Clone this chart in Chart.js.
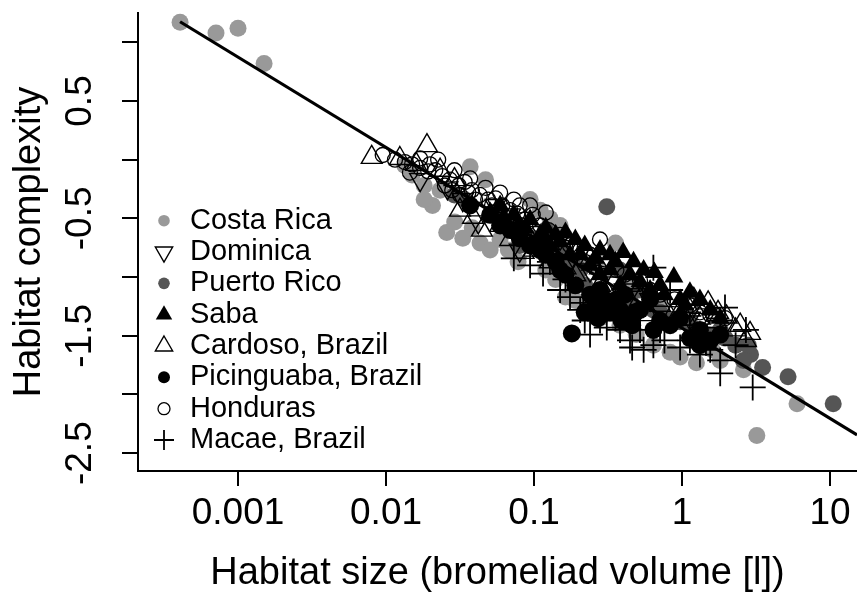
<!DOCTYPE html>
<html>
<head>
<meta charset="utf-8">
<script src="https://cdn.jsdelivr.net/npm/chart.js@4.4.1/dist/chart.umd.min.js"></script>
<style>
html,body{margin:0;padding:0;background:#fff;}
#wrap{width:857px;height:593px;}
</style>
</head>
<body>
<div id="wrap"><canvas id="c" width="857" height="593"></canvas></div>
<script>
// ---------- data (volume in litres, habitat complexity) ----------
const seriesNames = ['Costa Rica','Dominica','Puerto Rico','Saba','Cardoso, Brazil','Picinguaba, Brazil','Honduras','Macae, Brazil'];

const costaRicaVolume = [0.000406,0.00071,0.001,0.0015,0.0134,0.015,0.0181,0.0206,0.0232,0.0257,0.0291,0.033,0.0382,0.0432,0.0505,0.0589,0.067,0.078,0.037,0.047,0.094,0.11,0.128,0.15,0.12,0.14,0.163,0.19,0.239,0.355,0.279,0.381,0.49,0.64,0.83,0.97,1.25,1.6,1.81,2.6,3.2,5.98,0.0804,0.205,0.445,0.71,1.13,1.55,0.279,0.0181];
const costaRicaComplexity = [1.17,1.08,1.12,0.82,-0.05,-0.13,-0.22,-0.39,-0.26,-0.62,-0.53,-0.67,-0.58,-0.71,-0.77,-0.68,-0.77,-0.87,-0.06,-0.17,-0.34,-0.43,-0.50,-0.56,-0.94,-1.02,-1.17,-1.20,-1.24,-0.71,-1.35,-1.41,-1.49,-1.58,-1.64,-1.68,-1.73,-1.62,-1.71,-1.79,-2.35,-2.08,-0.60,-0.85,-1.07,-1.20,-1.36,-1.49,-0.94,-0.34];

const dominicaVolume = [0.017,0.026,0.042,0.055,0.069,0.094,0.125,0.15,0.19,0.239,0.30,0.41,0.52,0.71,0.97,1.32,0.080,0.033,0.11,0.175,0.355,0.608,1.13];
const dominicaComplexity = [-0.17,-0.24,-0.53,-0.39,-0.47,-0.62,-0.70,-0.67,-0.77,-0.94,-0.98,-1.11,-1.15,-1.30,-1.28,-1.36,-0.77,-0.34,-0.70,-0.87,-1.05,-1.19,-1.35];

const puertoRicoVolume = [0.31,3.5,5.2,10.5,0.029,0.034,0.059,0.073,0.094,0.12,0.15,0.18,0.22,0.26,0.33,0.38,0.52,0.64,0.83,1.13,1.45,1.81,2.3,2.9,2.8,2.6,0.080,0.11,0.15,0.205,0.279,0.445,0.71,0.97,1.32,1.95];
const puertoRicoComplexity = [-0.40,-1.77,-1.85,-2.08,-0.30,-0.34,-0.47,-0.58,-0.67,-0.60,-0.77,-0.87,-1.07,-1.19,-1.24,-0.94,-1.11,-1.28,-1.36,-1.41,-1.49,-1.45,-1.58,-1.66,-1.58,-1.71,-0.73,-0.68,-0.87,-0.94,-1.11,-1.19,-1.30,-1.38,-1.45,-1.52];

const sabaVolume = [0.059,0.073,0.094,0.12,0.14,0.163,0.19,0.22,0.279,0.326,0.40,0.47,0.55,0.65,0.88,0.71,1.13,1.32,0.445,0.239,0.175,0.128,0.11,0.080,0.326,0.608,0.97,1.55,0.381,0.279,0.0505,0.063,0.087,0.15,0.205,0.355,0.52,0.76,1.05,1.81,0.26,0.12];
const sabaComplexity = [-0.39,-0.47,-0.51,-0.58,-0.64,-0.62,-0.68,-0.73,-0.77,-0.81,-0.79,-0.87,-0.94,-0.96,-1.00,-1.07,-1.13,-1.19,-0.98,-0.90,-0.81,-0.73,-0.64,-0.56,-0.94,-1.11,-1.19,-1.28,-1.07,-0.98,-0.45,-0.50,-0.58,-0.70,-0.81,-0.87,-1.04,-1.15,-1.24,-1.35,-0.84,-0.68];

const cardosoVolume = [0.0080,0.0189,0.0232,0.0387,0.0444,0.059,0.085,0.10,0.128,0.19,0.279,0.381,0.52,0.71,0.98,1.2,1.5,1.75,2.0,2.47,2.88,2.7,0.016,0.029,0.0124,0.0316,0.069,0.163,0.239,0.608,1.13,1.32,1.7,2.3,0.094,0.279,0.445];
const cardosoComplexity = [0.02,0.12,-0.09,-0.49,-0.60,-0.56,-0.79,-0.77,-0.87,-0.98,-1.07,-1.15,-1.19,-1.24,-1.28,-1.19,-1.22,-1.30,-1.34,-1.41,-1.48,-1.54,-0.04,-0.17,0.01,-0.43,-0.68,-0.92,-0.85,-1.32,-1.28,-1.35,-1.38,-1.45,-0.68,-0.92,-1.07];

const picinguabaVolume = [0.18,0.22,0.27,0.326,0.39,0.46,0.26,0.36,0.52,1.13,1.32,1.55,0.83,0.64,0.15,0.12,0.094,0.069,0.19,0.279,0.41,0.608,0.97,1.81,0.0505,0.037,0.11,0.14,0.163,0.239,0.30,0.381,0.48,0.71,1.32,0.059,0.080];
const picinguabaComplexity = [-1.48,-1.30,-1.35,-1.30,-1.37,-1.41,-1.24,-1.19,-1.28,-1.52,-1.58,-1.54,-1.41,-1.45,-0.94,-0.81,-0.73,-0.60,-1.07,-1.11,-1.15,-1.19,-1.35,-1.49,-0.47,-0.39,-0.77,-0.87,-0.98,-1.15,-1.19,-1.28,-1.30,-1.37,-1.45,-0.56,-0.67];

const hondurasVolume = [0.0095,0.0115,0.0134,0.015,0.017,0.0193,0.0215,0.024,0.027,0.031,0.034,0.038,0.043,0.049,0.055,0.061,0.069,0.077,0.087,0.098,0.11,0.125,0.15,0.175,0.205,0.239,0.30,0.36,0.52,0.71,1.13,1.55,1.95,0.0225,0.029,0.037,0.047,0.059,0.073,0.094,0.12,0.017,0.0316,0.055,0.080,0.279,0.025,0.028,0.036,0.040,0.052,0.067,0.083,0.107,0.132,0.163,0.22,0.41,0.608,0.89,1.32,0.0198,0.0145];
const hondurasComplexity = [0.04,0.00,-0.02,-0.04,-0.07,-0.10,-0.09,-0.14,-0.17,-0.22,-0.19,-0.26,-0.30,-0.34,-0.33,-0.39,-0.43,-0.46,-0.51,-0.47,-0.56,-0.60,-0.64,-0.73,-0.77,-0.81,-0.85,-0.94,-1.03,-1.15,-1.24,-1.32,-1.35,0.00,-0.09,-0.16,-0.24,-0.28,-0.34,-0.39,-0.45,0.01,-0.30,-0.45,-0.39,-0.68,-0.22,-0.26,-0.28,-0.34,-0.39,-0.50,-0.56,-0.62,-0.68,-0.75,-0.87,-0.98,-1.11,-1.19,-1.30,-0.04,-0.11];

const macaeVolume = [0.115,0.128,0.163,0.215,0.239,0.31,0.445,0.55,0.64,0.64,0.97,1.45,1.81,1.81,3.0,1.95,1.81,0.46,0.279,0.15,0.094,0.073,0.205,0.381,0.71,1.13,1.32,2.3,2.7,0.83,0.279,0.355,0.52,0.76,1.13,1.55,0.175,0.22];
const macaeComplexity = [-0.97,-0.87,-1.02,-1.22,-1.49,-1.43,-1.54,-1.62,-0.92,-1.58,-1.60,-1.56,-1.71,-1.82,-1.94,-1.26,-1.37,-1.60,-1.37,-1.11,-0.90,-0.84,-1.28,-1.45,-1.45,-1.41,-1.66,-1.58,-1.45,-1.11,-1.24,-1.35,-1.45,-1.54,-1.54,-1.62,-1.17,-1.37];

// fitted regression line, end points
const fitVolume = [0.000406, 15.2];
const fitComplexity = [1.175, -2.345];

// axis ticks
const xTickValues = [0.001, 0.01, 0.1, 1, 10];
const xTickLabels = ['0.001', '0.01', '0.1', '1', '10'];
const yTickValues = [1, 0.5, 0, -0.5, -1, -1.5, -2, -2.5];
const yTickLabels = ['', '0.5', '', '-0.5', '', '-1.5', '', '-2.5'];
const xTitle = 'Habitat size (bromeliad volume [l])';
const yTitle = 'Habitat complexity';

// ---------- chart ----------
const FONT = "'Liberation Sans', Arial, sans-serif";
const pts = (xs, ys) => xs.map((v, i) => ({x: v, y: ys[i]}));

const styles = [
  {pointStyle:'circle',   rotation:0,   radius:8.5, bg:'#999999', bc:'#999999', bw:0,   lr:5.8},
  {pointStyle:'triangle', rotation:180, radius:12,  bg:'rgba(0,0,0,0)', bc:'#000', bw:1.4, lr:10},
  {pointStyle:'circle',   rotation:0,   radius:8.5, bg:'#555555', bc:'#555555', bw:0,   lr:5.8},
  {pointStyle:'triangle', rotation:0,   radius:11,  bg:'#000', bc:'#000', bw:0, lr:9.5},
  {pointStyle:'triangle', rotation:0,   radius:12,  bg:'rgba(0,0,0,0)', bc:'#000', bw:1.4, lr:10},
  {pointStyle:'circle',   rotation:0,   radius:9,   bg:'#000', bc:'#000', bw:0,   lr:6},
  {pointStyle:'circle',   rotation:0,   radius:7.5, bg:'rgba(0,0,0,0)', bc:'#000', bw:1.3, lr:6},
  {pointStyle:'cross',    rotation:0,   radius:13,  bg:'rgba(0,0,0,0)', bc:'#000', bw:1.8, lr:10}
];
const seriesData = [
  pts(costaRicaVolume, costaRicaComplexity),
  pts(dominicaVolume, dominicaComplexity),
  pts(puertoRicoVolume, puertoRicoComplexity),
  pts(sabaVolume, sabaComplexity),
  pts(cardosoVolume, cardosoComplexity),
  pts(picinguabaVolume, picinguabaComplexity),
  pts(hondurasVolume, hondurasComplexity),
  pts(macaeVolume, macaeComplexity)
];
// drawing order (higher = further back)
const drawOrder = [9, 6, 8, 5, 4, 7, 3, 2];

const datasets = seriesNames.map((name, i) => ({
  type: 'scatter',
  label: name,
  data: seriesData[i],
  pointStyle: styles[i].pointStyle,
  rotation: styles[i].rotation,
  pointRadius: styles[i].radius,
  backgroundColor: styles[i].bg,
  borderColor: styles[i].bc,
  borderWidth: styles[i].bw,
  order: drawOrder[i]
}));
datasets.push({
  type: 'line',
  label: 'fit',
  data: pts(fitVolume, fitComplexity),
  borderColor: '#000',
  borderWidth: 3.2,
  pointRadius: 0,
  fill: false,
  tension: 0,
  order: 0
});

const legendPlugin = {
  id: 'insideLegend',
  afterDraw(chart) {
    const ctx = chart.ctx;
    const x0 = 164, y0 = 220.7, dy = 31.33, tx = 190;
    ctx.save();
    seriesNames.forEach((name, i) => {
      const s = styles[i];
      const y = y0 + dy * i;
      ctx.fillStyle = s.bg;
      ctx.strokeStyle = s.bc;
      ctx.lineWidth = s.bw > 0 ? Math.max(1.2, s.bw) : 0;
      Chart.helpers.drawPoint(ctx, {pointStyle: s.pointStyle, rotation: s.rotation, radius: s.lr, borderWidth: s.bw > 0 ? ctx.lineWidth : 0}, x0, y);
      ctx.fillStyle = '#000';
      ctx.font = '29px ' + FONT;
      ctx.textAlign = 'left';
      ctx.textBaseline = 'middle';
      ctx.fillText(name, tx, y);
    });
    ctx.restore();
  }
};

const noPad = s => { s.paddingTop = 0; s.paddingBottom = 0; s.paddingLeft = 0; s.paddingRight = 0; };

new Chart(document.getElementById('c'), {
  type: 'scatter',
  data: {datasets},
  options: {
    responsive: false,
    animation: false,
    devicePixelRatio: 1,
    layout: {autoPadding: false, padding: {top: 13, left: 0, right: 0, bottom: 0}},
    plugins: {legend: {display: false}, tooltip: {enabled: false}},
    scales: {
      x: {
        type: 'logarithmic',
        position: 'bottom',
        min: 0.000211,
        max: 15.2,
        afterBuildTicks: s => { s.ticks = xTickValues.map(v => ({value: v})); },
        afterFit: s => { s.height = 122; noPad(s); },
        grid: {drawOnChartArea: false, drawTicks: true, tickLength: 15, color: '#000', lineWidth: 2},
        border: {display: true, color: '#000', width: 2},
        ticks: {
          autoSkip: false, maxRotation: 0, minRotation: 0,
          color: '#000', padding: 6,
          font: {family: FONT, size: 37},
          callback: (v, i) => xTickLabels[i]
        },
        title: {display: true, text: xTitle, color: '#000',
          font: {family: FONT, size: 38, lineHeight: 1}, padding: {top: 0, bottom: 0}}
      },
      y: {
        type: 'linear',
        position: 'left',
        min: -2.652,
        max: 1.2496,
        afterBuildTicks: s => { s.ticks = yTickValues.map(v => ({value: v})); },
        afterFit: s => { s.width = 138; noPad(s); },
        grid: {drawOnChartArea: false, drawTicks: true, tickLength: 16, color: '#000', lineWidth: 2},
        border: {display: true, color: '#000', width: 2},
        ticks: {
          autoSkip: false, minRotation: 90, maxRotation: 90, crossAlign: 'center',
          color: '#000', padding: 9,
          font: {family: FONT, size: 37},
          callback: (v, i) => yTickLabels[i]
        },
        title: {display: true, text: yTitle, color: '#000',
          font: {family: FONT, size: 38, lineHeight: 1}, padding: {top: 11, bottom: 0}}
      }
    }
  },
  plugins: [legendPlugin]
});
</script>
</body>
</html>
